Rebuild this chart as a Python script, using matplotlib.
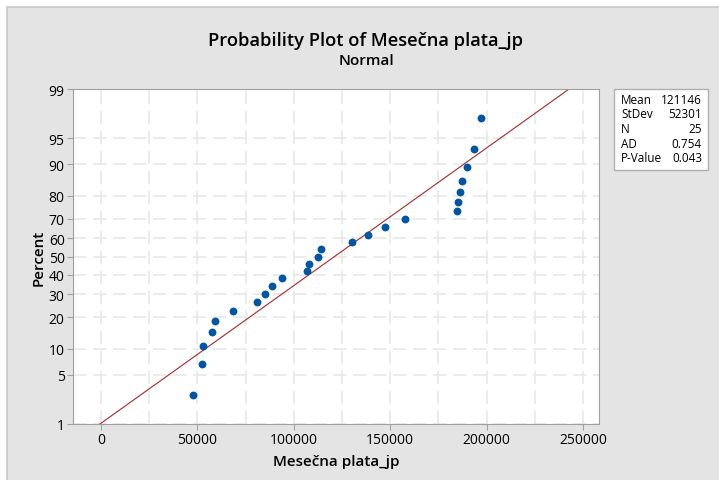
import numpy as np
import matplotlib
matplotlib.use('Agg')
import matplotlib.pyplot as plt
from matplotlib.patches import Rectangle
from statistics import NormalDist

# sorted salaries
plata = [47900, 52400, 52900, 57600, 59100, 68600, 80900, 85200, 88700, 93900,
         106800, 107700, 112400, 114100, 130000, 138300, 147500, 157800,
         184500, 185000, 186200, 187400, 189700, 193300, 196900]
mean = 121146
stdev = 52301
stat_names = ['Mean', 'StDev', 'N', 'AD', 'P-Value']
stat_vals = ['121146', '52301', '25', '0.754', '0.043']
y_ticks = [1, 5, 10, 20, 30, 40, 50, 60, 70, 80, 90, 95, 99]
x_ticks = [0, 50000, 100000, 150000, 200000, 250000]

nd = NormalDist()

def fwd(p):
    p = np.clip(np.asarray(p, dtype=float), 1e-9, 100 - 1e-9)
    return np.vectorize(lambda v: nd.inv_cdf(v / 100.0), otypes=[float])(p)

def inv(z):
    z = np.asarray(z, dtype=float)
    return np.vectorize(lambda v: nd.cdf(v) * 100.0, otypes=[float])(z)

n = len(plata)
pct = [(i - 0.3) / (n + 0.4) * 100 for i in range(1, n + 1)]

plt.rcParams['font.family'] = ['Open Sans', 'DejaVu Sans']
fig = plt.figure(figsize=(7.19, 4.81), dpi=100, facecolor='white')
fig.patches.append(Rectangle((7 / 719, -0.1), 1.2, 1 - 8 / 481 + 0.1, transform=fig.transFigure,
                             facecolor='#e4e4e4', edgecolor='#c8c8c8', lw=1.2, zorder=-10))

ax = fig.add_axes([73 / 719, 1 - 425 / 481, (599 - 73) / 719, (425 - 90) / 481])
ax.set_zorder(1)
ax.set_facecolor('white')
ax.set_yscale('function', functions=(fwd, inv))
ax.set_ylim(1, 99)
ax.set_xlim(-14500, 258300)

ax.set_yticks(y_ticks)
ax.set_yticklabels([str(t) for t in y_ticks])
ax.set_xticks(x_ticks)
ax.set_xticks(np.arange(0, 275000, 25000), minor=True)
ax.grid(True, which='both', axis='x', color='#e8e8e8', ls=(0, (8, 4)), lw=1.2, zorder=0)
ax.grid(True, which='major', axis='y', color='#e8e8e8', ls=(0, (8, 4)), lw=1.2, zorder=0)
ax.tick_params(which='minor', length=0)
ax.tick_params(which='major', length=4, color='#a0a0a0', labelsize=10, pad=2)
for s in ax.spines.values():
    s.set_color('#a0a0a0')

# fitted line
z_lo = nd.inv_cdf(0.01)
z_hi = nd.inv_cdf(0.99)
ax.plot([mean + z_lo * stdev, mean + z_hi * stdev], [1, 99], color='#a82828', lw=0.8, zorder=2)
ax.scatter(plata, pct, s=32, color='#0055a5', zorder=3, linewidths=0)

ax.set_xlabel('Mesečna plata_jp', fontsize=11, fontweight='semibold', labelpad=5)
ax.set_ylabel('Percent', fontsize=11, fontweight='semibold', labelpad=2)

fig.text(366 / 719, 1 - 41 / 481, 'Probability Plot of Mesečna plata_jp', ha='center', va='center',
         fontsize=13.2, fontweight='semibold')
fig.text(366 / 719, 1 - 61 / 481, 'Normal', ha='center', va='center', fontsize=11, fontweight='semibold')

# stats box
fig.patches.append(Rectangle((614 / 719, 1 - 171 / 481), 94 / 719, 81 / 481, transform=fig.transFigure,
                             facecolor='white', edgecolor='#b0b0b0', lw=1, zorder=2))
for k, (nm, vl) in enumerate(zip(stat_names, stat_vals)):
    yy = 1 - (100 + k * 14.7) / 481
    fig.text(621 / 719, yy, nm, ha='left', va='center', fontsize=8.5, zorder=3)
    fig.text(702 / 719, yy, vl, ha='right', va='center', fontsize=8.5, zorder=3)

fig.savefig('out.png', dpi=100, facecolor='white')
